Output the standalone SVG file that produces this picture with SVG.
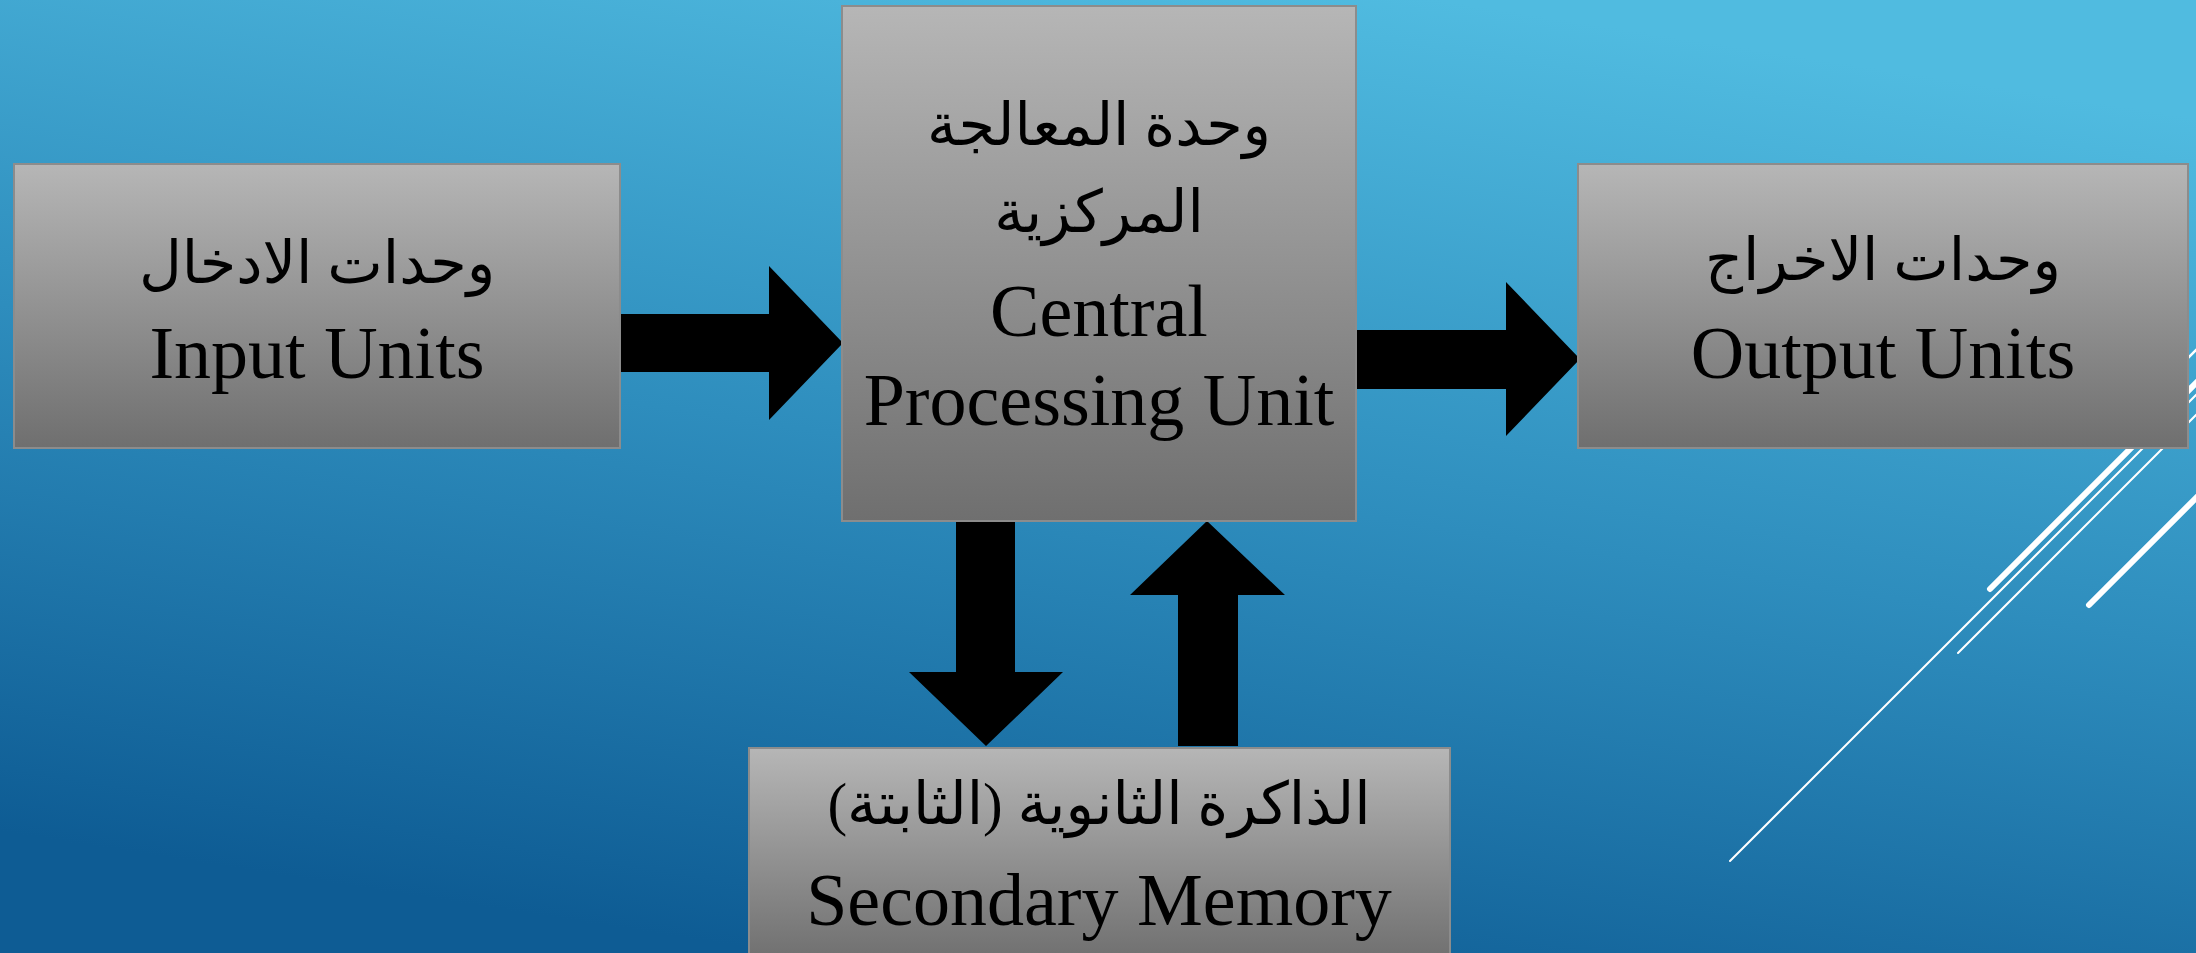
<svg xmlns="http://www.w3.org/2000/svg" width="2196" height="953" viewBox="0 0 2196 953">
  <defs>
    <linearGradient id="bg" gradientUnits="userSpaceOnUse" x1="1180" y1="-40" x2="1020" y2="990">
      <stop offset="0" stop-color="#50bbe0"/>
      <stop offset="0.5" stop-color="#2e8dbd"/>
      <stop offset="1" stop-color="#0e5c94"/>
    </linearGradient>
    <linearGradient id="boxfill" x1="0" y1="0" x2="0" y2="1">
      <stop offset="0" stop-color="#b6b6b6"/>
      <stop offset="1" stop-color="#6f6f6f"/>
    </linearGradient>
    <style>
      .box { fill: url(#boxfill); stroke: #8c8c8c; stroke-width: 2; }
      .en { font-family: "Liberation Serif", "Times New Roman", serif; font-size: 74px; fill: #000; text-anchor: middle; }
      .ar { font-family: "Liberation Serif", "DejaVu Sans", serif; font-size: 59px; fill: #000; text-anchor: middle; direction: rtl; unicode-bidi: embed; }
      .arrow { fill: #000; }
      .deco { stroke: #ffffff; fill: none; stroke-linecap: round; }
    </style>
  </defs>

  <rect x="0" y="0" width="2196" height="953" fill="url(#bg)"/>

  <g id="decoration">
    <line class="deco" x1="1730" y1="861" x2="2230" y2="361" stroke-width="2"/>
    <line class="deco" x1="1958" y1="653" x2="2230" y2="381" stroke-width="2"/>
    <line class="deco" x1="1990" y1="589" x2="2230" y2="349" stroke-width="6"/>
    <line class="deco" x1="2089" y1="605" x2="2230" y2="464" stroke-width="6"/>
    <line class="deco" x1="2140" y1="406" x2="2230" y2="316" stroke-width="2.5"/>
  </g>

  <g id="connectors">
    <polygon class="arrow" points="620,314 769,314 769,266 843,343 769,420 769,372 620,372"/>
    <polygon class="arrow" points="1356,330 1506,330 1506,282 1580,359 1506,436 1506,389 1356,389"/>
    <polygon class="arrow" points="956,521 1015,521 1015,672 1063,672 986,746 909,672 956,672"/>
    <polygon class="arrow" points="1207,521 1285,595 1238,595 1238,746 1178,746 1178,595 1130,595"/>
  </g>

  <g id="input">
    <rect class="box" x="14" y="164" width="606" height="284"/>
    <text class="ar" x="317" y="283">وحدات الادخال</text>
    <text class="en" x="317" y="378">Input Units</text>
  </g>

  <g id="cpu">
    <rect class="box" x="842" y="6" width="514" height="515"/>
    <text class="ar" x="1099" y="145">وحدة المعالجة</text>
    <text class="ar" x="1099" y="232">المركزية</text>
    <text class="en" x="1099" y="336">Central</text>
    <text class="en" x="1099" y="425">Processing Unit</text>
  </g>

  <g id="output">
    <rect class="box" x="1578" y="164" width="610" height="284"/>
    <text class="ar" x="1883" y="280">وحدات الاخراج</text>
    <text class="en" x="1883" y="378">Output Units</text>
  </g>

  <g id="memory">
    <rect class="box" x="749" y="748" width="701" height="214"/>
    <text class="ar" x="1099" y="824">الذاكرة الثانوية (الثابتة)</text>
    <text class="en" x="1099" y="925">Secondary Memory</text>
  </g>
</svg>
